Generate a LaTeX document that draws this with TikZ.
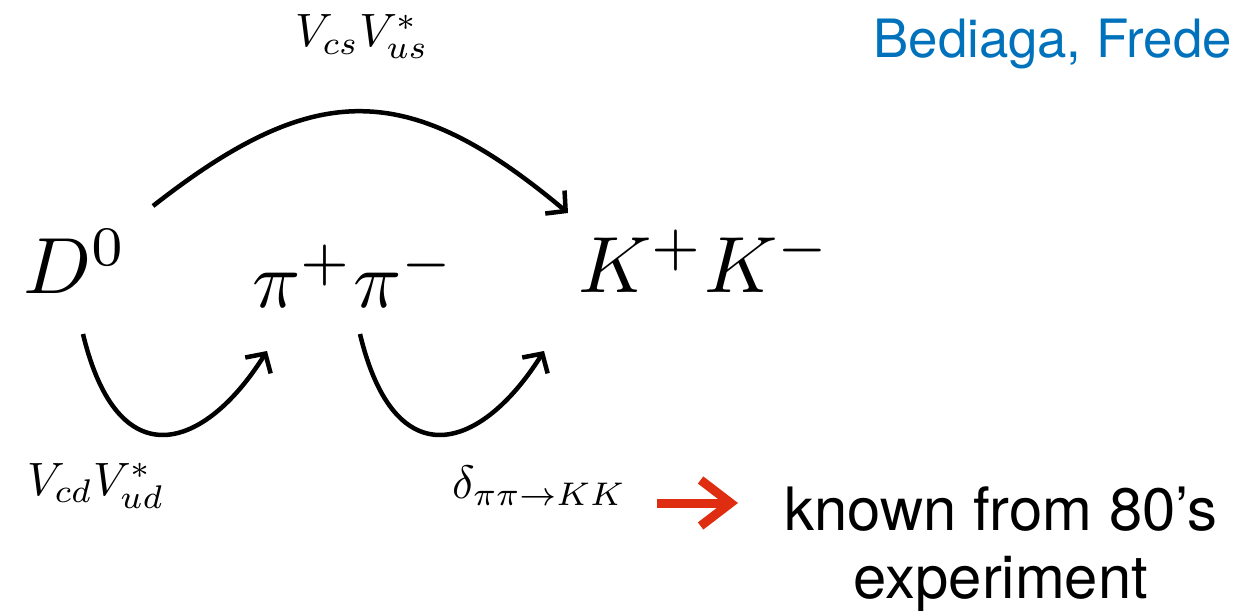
\documentclass[tikz,border=0pt]{standalone}
\usepackage{graphicx}
\usepackage{fontspec}
\newfontfamily\helv{TeX Gyre Heros}
\usetikzlibrary{arrows.meta}
\definecolor{authorblue}{RGB}{0,114,188}
\definecolor{arrowred}{RGB}{222,45,16}
\newcommand{\bigmath}[1]{\scalebox{8}{$#1$}}
\newcommand{\midmath}[1]{\scalebox{4.7}{$#1$}}
\begin{document}
\begin{tikzpicture}[x=1bp,y=-1bp,
  big/.style={inner sep=0pt, anchor=base west},
  mid/.style={inner sep=0pt, anchor=base west},
  sans/.style={inner sep=0pt, font=\helv\fontsize{60}{68}\selectfont, align=center},
  flow/.style={line width=4.5bp, line cap=butt, -{Straight Barb[length=14bp,width=30bp]}},
  redflow/.style={arrowred, line width=9bp, -{Straight Barb[length=30bp,width=46bp]}},
]
\useasboundingbox (0,0) rectangle (1239,612);
\node[big] (D0) at (23,294) {\bigmath{D^0}};
\node[big] (pipi) at (252,308) {\bigmath{\pi^+\pi^-}};
\node[big] (KK) at (578,293) {\bigmath{K^+K^-}};
\node[mid] (Vtop) at (295,47) {\midmath{V_{cs}V^*_{us}}};
\node[mid] (Vbot) at (27,495) {\midmath{V_{cd}V^*_{ud}}};
\node[mid] (delta) at (452,498) {\midmath{\delta_{\pi\pi\to KK}}};
\node[sans, anchor=base] (known) at (1001,598) {known from 80’s\\experiment};
\node[sans, font=\helv\fontsize{53}{60}\selectfont, text=authorblue, anchor=base east] (auth) at (1232,58) {Bediaga, Frede};

\coordinate (t1) at (153,206);
\coordinate (t2) at (568,213);
\coordinate (b1) at (83,334);
\coordinate (b2) at (267,351);
\coordinate (c1) at (360,334);
\coordinate (c2) at (544,351);
\coordinate (r1) at (657,503);
\coordinate (r2) at (738,503);

\draw[flow] (t1) .. controls (315,79) and (408,79) .. (t2);
\draw[flow] (b1) .. controls (118,480) and (205,450) .. (b2);
\draw[flow] (c1) .. controls (395,480) and (482,450) .. (c2);
\draw[redflow] (r1) -- (r2);
\end{tikzpicture}
\end{document}
